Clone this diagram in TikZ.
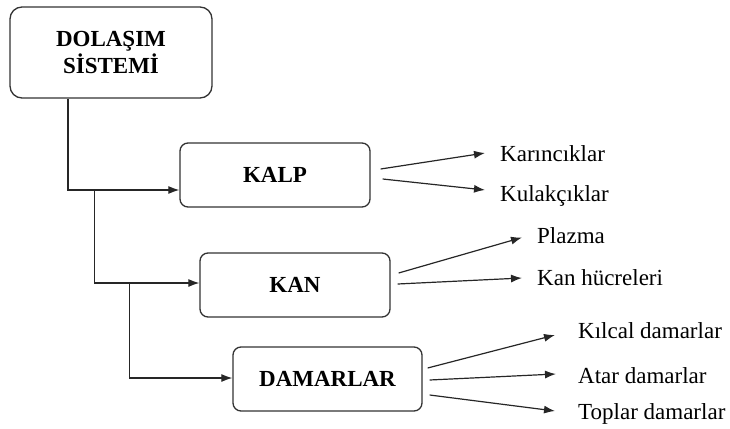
\documentclass[tikz,border=0pt]{standalone}
\usepackage{fontspec}
\setmainfont{Liberation Serif}
\usepackage{tikz}
\usetikzlibrary{positioning}
\usetikzlibrary{arrows.meta}

\tikzset{
    boxnode/.style={draw=black!80,line width=1.3pt,rectangle,rounded corners=8pt,text=black,font=\fontsize{23}{27}\selectfont\bfseries,align=center},
    leafnode/.style={inner sep=0pt,text height=16pt,text depth=5pt,anchor=west,font=\fontsize{23}{27}\selectfont},
    elbow/.style={draw=black!85,line width=1.2pt,-{Latex[length=11pt,width=8pt]}},
    branch/.style={draw=black!85,line width=1.2pt,-{Latex[length=11pt,width=8pt]}}
}

\begin{document}
\begin{tikzpicture}[x=1pt,y=-1pt]
        \useasboundingbox (0,0) rectangle (730,428);

        \node (sistem) at (111,52.5) [boxnode,rounded corners=12pt,minimum width=202pt,minimum height=91pt] {DOLAŞIM\\SİSTEMİ};
        \node (kalp) at (275,175) [boxnode,minimum width=190pt,minimum height=64pt] {KALP};
        \node (kan) at (295,285) [boxnode,minimum width=190pt,minimum height=64pt] {KAN};
        \node (damar) at (327.5,379) [boxnode,minimum width=189pt,minimum height=64pt] {DAMARLAR};

        % main tree on the left
        \coordinate (kalpIn) at ([yshift=-15pt]kalp.west);
        \coordinate (kanIn) at ([yshift=2pt]kan.west);
        \coordinate (damarIn) at ([yshift=1pt]damar.west);
        \coordinate (kanFork) at ([xshift=-85pt]kalpIn);
        \coordinate (damarFork) at ([xshift=-70pt]kanIn);
        \draw[elbow] ([xshift=-43pt]sistem.south) |- (kalpIn);
        \draw[elbow] (kanFork) |- (kanIn);
        \draw[elbow] (damarFork) |- (damarIn);

        % leaves of KALP
        \node (karincik) at (500,155.5) [leafnode] {Karıncıklar};
        \node (kulakcik) at (500,195.5) [leafnode] {Kulakçıklar};
        \draw[branch] ([xshift=10pt,yshift=6pt]kalp.east) -- ([xshift=-15pt,yshift=2.5pt]karincik.west);
        \draw[branch] ([xshift=12pt,yshift=-4pt]kalp.east) -- ([xshift=-15pt,yshift=5.5pt]kulakcik.west);

        % leaves of KAN
        \node (plazma) at (537,237.5) [leafnode] {Plazma};
        \node (hucre) at (537,279.5) [leafnode] {Kan hücreleri};
        \draw[branch] ([xshift=8pt,yshift=12pt]kan.east) -- ([xshift=-15pt]plazma.west);
        \draw[branch] ([xshift=7pt,yshift=1pt]kan.east) -- ([xshift=-15pt,yshift=1.5pt]hucre.west);

        % leaves of DAMARLAR
        \node (kilcal) at (578,332.5) [leafnode] {Kılcal damarlar};
        \node (atar) at (578,377.5) [leafnode] {Atar damarlar};
        \node (toplar) at (578,413.5) [leafnode] {Toplar damarlar};
        \draw[branch] ([xshift=5pt,yshift=11pt]damar.east) -- ([xshift=-23pt,yshift=-2.5pt]kilcal.west);
        \draw[branch] ([xshift=7pt,yshift=-1pt]damar.east) -- ([xshift=-22pt,yshift=3.5pt]atar.west);
        \draw[branch] ([xshift=7pt,yshift=-16pt]damar.east) -- ([xshift=-23pt,yshift=2.5pt]toplar.west);

\end{tikzpicture}
\end{document}
